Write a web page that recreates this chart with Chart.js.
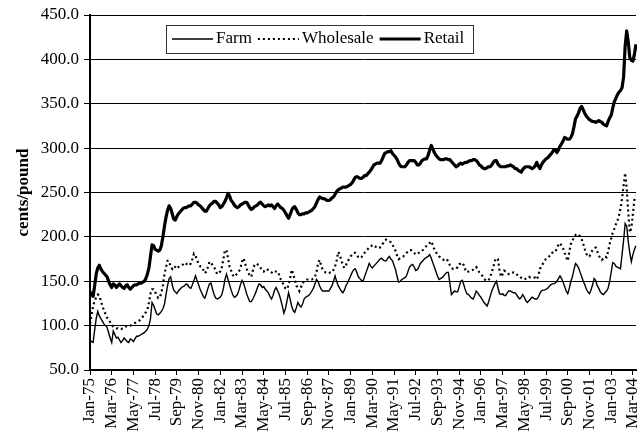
<!DOCTYPE html>
<html>
<head>
<meta charset="utf-8">
<script src="https://cdn.jsdelivr.net/npm/chart.js@4.4.1/dist/chart.umd.min.js"></script>
<style>
  html, body { margin: 0; padding: 0; background: #fff; }
  #wrap { width: 637px; height: 438px; position: relative; }
</style>
</head>
<body>
<div id="wrap"><canvas id="chart"></canvas></div>
<script>
// Categories: monthly, Jan-75 .. May-04
const MONTHS = ['Jan', 'Feb', 'Mar', 'Apr', 'May', 'Jun', 'Jul', 'Aug', 'Sep', 'Oct', 'Nov', 'Dec'];
const FIRST_YEAR = 1975;
const LABEL_EVERY = 14; // a label every 14 months (Jan-75, Mar-76, May-77 ...)

// Y axis
const Y_MIN = 50;
const Y_MAX = 450;
const Y_STEP = 50;

// Series values, cents/pound (one row per year)
const farm = [
  84, 82, 81, 95, 108, 116, 111, 108, 105, 102, 100, 98,
  92, 86, 81, 94, 90, 86, 87, 84, 81, 83, 86, 84,
  82, 81, 85, 84, 82, 85, 88, 88, 89, 90, 91, 92,
  94, 96, 100, 108, 126, 123, 118, 113, 112, 114, 116, 119,
  124, 135, 145, 153, 155, 146, 140, 138, 136, 139, 141, 143,
  144, 145, 147, 146, 143, 142, 146, 151, 156, 151, 146, 141,
  137, 133, 131, 136, 142, 147, 148, 141, 135, 131, 130, 131,
  132, 135, 142, 152, 158, 152, 146, 140, 135, 132, 133, 135,
  140, 146, 151, 148, 142, 136, 131, 127, 127, 130, 134, 138,
  143, 147, 146, 143, 144, 141, 139, 137, 133, 130, 134, 140,
  143, 139, 135, 129, 122, 114, 119, 128, 137, 130, 122, 117,
  115, 120, 126, 123, 121, 124, 130, 132, 133, 134, 136, 139,
  142, 147, 152, 150, 145, 141, 139, 139, 139, 139, 139, 142,
  145, 150, 156, 150, 145, 142, 139, 137, 140, 145, 148, 152,
  156, 160, 163, 164, 160, 155, 153, 151, 150, 155, 160, 165,
  170, 167, 165, 167, 169, 171, 173, 175, 176, 174, 173, 173,
  176, 178, 175, 173, 168, 163, 155, 149, 150, 152, 153, 154,
  156, 161, 166, 168, 169, 166, 162, 163, 166, 170, 172, 174,
  176, 177, 178, 180, 176, 171, 166, 161, 156, 152, 153, 154,
  156, 158, 160, 160, 148, 135, 137, 139, 138, 138, 144, 150,
  151, 146, 140, 136, 135, 133, 131, 130, 134, 139, 137, 134,
  132, 129, 126, 124, 122, 127, 133, 139, 143, 147, 150, 143,
  136, 135, 136, 134, 134, 137, 139, 139, 138, 137, 137, 135,
  132, 130, 132, 135, 132, 128, 126, 128, 130, 132, 131, 130,
  130, 132, 136, 139, 140, 140, 141, 142, 144, 146, 147, 147,
  148, 150, 153, 156, 153, 149, 144, 139, 136, 142, 150, 155,
  163, 170, 168, 165, 160, 155, 150, 146, 141, 138, 136, 140,
  146, 153, 151, 145, 142, 138, 136, 135, 137, 139, 142, 150,
  160, 171, 170, 167, 166, 165, 164, 180, 196, 215, 212, 195,
  182, 172, 180, 186, 190
];

const wholesale = [
  102, 112, 122, 128, 132, 135, 134, 128, 122, 117, 113, 109,
  107, 104, 101, 99, 98, 97, 97, 96, 96, 97, 98, 99,
  99, 100, 100, 101, 102, 103, 104, 105, 106, 108, 110, 113,
  115, 118, 126, 136, 141, 141, 138, 134, 131, 132, 137, 145,
  158, 166, 173, 173, 166, 164, 167, 166, 164, 166, 167, 168,
  169, 171, 170, 168, 168, 170, 175, 181, 179, 174, 170, 167,
  166, 163, 159, 161, 166, 172, 171, 168, 166, 162, 158, 159,
  161, 166, 175, 185, 185, 176, 166, 162, 157, 155, 157, 159,
  161, 165, 172, 176, 170, 164, 160, 156, 155, 162, 168, 170,
  169, 168, 165, 162, 161, 163, 164, 162, 161, 160, 159, 161,
  161, 161, 157, 152, 149, 145, 142, 141, 146, 153, 163, 158,
  152, 145, 143, 139, 143, 148, 150, 151, 152, 152, 152, 152,
  153, 155, 160, 170, 174, 168, 163, 161, 160, 160, 159, 160,
  160, 163, 167, 173, 183, 180, 174, 168, 165, 168, 172, 175,
  178, 180, 182, 182, 180, 177, 176, 177, 180, 182, 184, 186,
  188, 189, 191, 190, 189, 188, 187, 188, 191, 193, 196, 197,
  196, 195, 194, 191, 188, 184, 179, 175, 176, 177, 178, 180,
  182, 183, 185, 185, 184, 182, 180, 181, 182, 183, 184, 186,
  188, 190, 191, 193, 195, 191, 186, 183, 180, 178, 177, 176,
  174, 175, 175, 172, 168, 165, 164, 164, 164, 166, 169, 170,
  171, 168, 163, 160, 161, 162, 162, 163, 165, 166, 163, 160,
  158, 156, 153, 151, 151, 151, 155, 160, 166, 173, 176, 175,
  162, 155, 158, 162, 161, 159, 158, 158, 159, 160, 160, 158,
  156, 155, 154, 153, 152, 153, 154, 155, 154, 154, 154, 154,
  152, 156, 164, 166, 170, 173, 175, 176, 178, 179, 182, 183,
  183, 187, 191, 193, 190, 187, 182, 177, 173, 183, 192, 195,
  200, 202, 203, 203, 200, 197, 192, 186, 181, 178, 178, 182,
  185, 187, 188, 184, 179, 176, 174, 176, 178, 177, 183, 192,
  198, 205, 209, 214, 218, 224, 232, 243, 258, 272, 255, 228,
  205, 210, 226, 242, 246
];

const retail = [
  138, 135, 133, 145, 158, 165, 168, 164, 161, 159, 157, 155,
  150, 146, 143, 147, 146, 143, 145, 147, 145, 143, 142, 145,
  146, 143, 141, 143, 145, 146, 146, 147, 148, 148, 149, 150,
  153, 158, 165, 178, 191, 190, 186, 185, 184, 185, 190, 200,
  212, 222, 230, 235, 232, 226, 220, 219, 223, 226, 228, 230,
  232, 233, 233, 234, 235, 235, 237, 239, 239, 238, 236, 235,
  233, 231, 229, 229, 232, 235, 237, 238, 240, 240, 238, 236,
  233, 234, 237, 240, 244, 249, 246, 241, 239, 236, 234, 233,
  234, 236, 237, 238, 239, 239, 236, 233, 231, 232, 234, 235,
  236, 238, 239, 237, 235, 234, 235, 236, 235, 236, 234, 232,
  235, 237, 235, 233, 232, 230, 227, 224, 221, 225, 230, 233,
  234, 231, 227, 225, 225, 226, 226, 227, 227, 228, 229, 230,
  232, 234, 238, 242, 245, 244, 243, 243, 242, 241, 241, 242,
  244, 245, 248, 251, 253, 254, 255, 256, 256, 256, 257, 258,
  259, 261, 264, 267, 268, 267, 266, 266, 267, 269, 269, 271,
  273, 275, 278, 281, 282, 283, 283, 283, 286, 290, 294, 295,
  296, 296, 297, 294, 292, 290, 287, 283, 280, 279, 279, 279,
  281, 284, 286, 286, 286, 286, 284, 281, 281, 283, 286, 287,
  288, 288, 292, 298, 303, 299, 295, 292, 290, 288, 287, 287,
  287, 288, 288, 287, 287, 285, 283, 281, 279, 280, 282, 283,
  282, 283, 284, 284, 285, 286, 286, 287, 287, 286, 284, 281,
  280, 278, 277, 277, 278, 279, 279, 281, 284, 286, 286, 282,
  280, 279, 279, 279, 279, 280, 280, 281, 280, 279, 277, 277,
  275, 274, 273, 276, 278, 279, 279, 279, 278, 277, 278, 280,
  284, 280, 277, 281, 284, 286, 288, 289, 291, 293, 295, 298,
  298, 295, 298, 302, 305, 308, 312, 311, 310, 310, 312, 316,
  324, 333, 336, 340, 345, 347, 343, 339, 336, 334, 332, 331,
  330, 330, 329, 330, 331, 330, 329, 327, 326, 325, 330, 334,
  337, 345, 352, 356, 360, 363, 365, 368, 380, 415, 432, 420,
  402, 399, 398, 406, 417
];

const labels = retail.map((_, i) =>
  MONTHS[i % 12] + '-' + String((FIRST_YEAR + Math.floor(i / 12)) % 100).padStart(2, '0'));

const FONT = "'Liberation Serif', 'Times New Roman', serif";

// Legend drawn inside the plot, Excel style
const insideLegend = {
  id: 'insideLegend',
  afterDraw(chart) {
    const ctx = chart.ctx;
    const box = { x: 166, y: 25, w: 307, h: 28 };
    const cy = box.y + box.h / 2;
    ctx.save();
    ctx.fillStyle = '#fff';
    ctx.fillRect(box.x, box.y, box.w, box.h);
    ctx.strokeStyle = '#333';
    ctx.lineWidth = 1;
    ctx.strokeRect(box.x + 0.5, box.y + 0.5, box.w, box.h);
    ctx.font = '17px ' + FONT;
    ctx.textBaseline = 'middle';
    ctx.fillStyle = '#000';
    let x = box.x + 6;
    chart.data.datasets.slice().reverse().forEach(ds => {
      ctx.beginPath();
      ctx.setLineDash(ds.borderDash || []);
      ctx.lineWidth = ds.borderWidth;
      ctx.strokeStyle = ds.borderColor;
      ctx.moveTo(x, cy);
      ctx.lineTo(x + 41, cy);
      ctx.stroke();
      ctx.setLineDash([]);
      x += 44;
      ctx.fillText(ds.label, x, cy);
      x += ctx.measureText(ds.label).width + 6;
    });
    ctx.restore();
  }
};

new Chart(document.getElementById('chart'), {
  type: 'line',
  data: {
    labels: labels,
    datasets: [
      {
        label: 'Retail',
        data: retail,
        borderColor: '#000',
        borderWidth: 3.2,
        borderJoinStyle: 'round',
        pointRadius: 0,
        tension: 0
      },
      {
        label: 'Wholesale',
        data: wholesale,
        borderColor: '#000',
        borderWidth: 2.2,
        borderDash: [2, 3],
        pointRadius: 0,
        tension: 0
      },
      {
        label: 'Farm',
        data: farm,
        borderColor: '#000',
        borderWidth: 1.4,
        pointRadius: 0,
        tension: 0
      }
    ]
  },
  options: {
    responsive: true,
    maintainAspectRatio: false,
    animation: false,
    events: [],
    layout: { padding: { top: 15, right: 1, bottom: 0, left: 0 } },
    plugins: {
      legend: { display: false },
      tooltip: { enabled: false }
    },
    scales: {
      x: {
        type: 'category',
        offset: false,
        grid: { drawOnChartArea: false, drawTicks: true, tickLength: 5, color: '#000' },
        border: { color: '#000', width: 2 },
        ticks: {
          autoSkip: false,
          minRotation: 90,
          maxRotation: 90,
          padding: 3,
          color: '#000',
          font: { family: FONT, size: 17 },
          callback: function (val, idx) {
            return idx % LABEL_EVERY === 0 ? this.getLabelForValue(val) : null;
          }
        },
        afterFit(scale) {
          scale.height = 68;
          scale.paddingLeft = 0;
          scale.paddingRight = 0;
        }
      },
      y: {
        min: Y_MIN,
        max: Y_MAX,
        grid: { color: '#000', lineWidth: 1, tickLength: 6 },
        border: { color: '#000', width: 2 },
        ticks: {
          stepSize: Y_STEP,
          padding: 5,
          color: '#000',
          font: { family: FONT, size: 17 },
          callback: v => v.toFixed(1)
        },
        title: {
          display: true,
          text: 'cents/pound',
          color: '#000',
          font: { family: FONT, size: 17, weight: 'bold' },
          padding: { top: 13, bottom: 0 }
        },
        afterFit(scale) {
          scale.width = 90;
          scale.paddingTop = 0;
          scale.paddingBottom = 0;
        }
      }
    }
  },
  plugins: [insideLegend]
});
</script>
</body>
</html>
